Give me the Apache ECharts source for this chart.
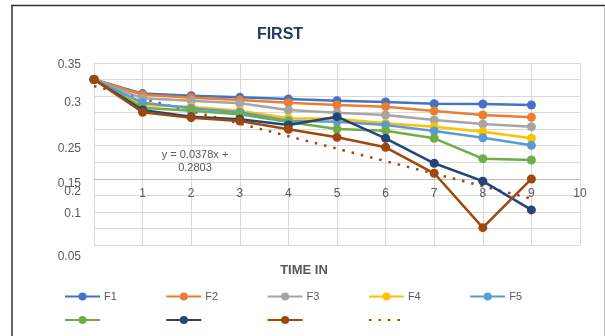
<!DOCTYPE html>
<html>
<head>
<meta charset="utf-8">
<script src="https://cdn.jsdelivr.net/npm/echarts@6/dist/echarts.min.js"></script>
<style>
  html, body { margin: 0; padding: 0; background: #ffffff; }
  #chart { width: 605px; height: 336px; }
</style>
</head>
<body>
<div id="chart"></div>
<script>
// Time steps along the horizontal axis
const timeSteps = [0, 1, 2, 3, 4, 5, 6, 7, 8, 9];

// Measured series
const seriesF1 = [0.330, 0.313, 0.3105, 0.3085, 0.3065, 0.3044, 0.3029, 0.3008, 0.3005, 0.2992];
const seriesF2 = [0.330, 0.3117, 0.308, 0.3053, 0.302, 0.2992, 0.2972, 0.292, 0.2872, 0.2844];
const seriesF3 = [0.330, 0.3073, 0.3044, 0.3013, 0.2932, 0.290, 0.2872, 0.2811, 0.2763, 0.273];
const seriesF4 = [0.330, 0.2992, 0.2972, 0.2924, 0.2832, 0.2825, 0.2771, 0.273, 0.267, 0.259];
const seriesF5 = [0.330, 0.302, 0.2952, 0.2904, 0.2803, 0.2791, 0.2751, 0.2678, 0.2597, 0.2505];
const seriesF6 = [0.330, 0.296, 0.2924, 0.288, 0.2787, 0.2702, 0.2682, 0.259, 0.2344, 0.2328];
const seriesF7 = [0.330, 0.2932, 0.2851, 0.282, 0.2751, 0.2851, 0.259, 0.2288, 0.2072, 0.1724];
const seriesF8 = [0.330, 0.2904, 0.2839, 0.2799, 0.2699, 0.2602, 0.2481, 0.2167, 0.151, 0.2098];

// Linear trend of F8 (end points)
const trendX = [0, 9];
const trendY = [0.322, 0.186];

// Legend names (only the first row carries text)
const legendNames = ['F1', 'F2', 'F3', 'F4', 'F5', '', '', '', ''];

// Vertical axis labels as printed
const yTickLabels = ['0.35', '0.3', '0.25', '0.15', '0.2', '0.1', '0.05'];
const xTickLabels = ['', '1', '2', '3', '4', '5', '6', '7', '8', '9', '10'];

const equationLines = ['y = 0.0378x +', '0.2803'];

const colors = ['#4472C4', '#ED7D31', '#A5A5A5', '#FFC000', '#5B9BD5', '#70AD47', '#264478', '#9E480E', '#9E480E'];
const seriesIds = ['F1', 'F2', 'F3', 'F4', 'F5', 'F6', 'F7', 'F8', 'Linear (F8)'];
const allSeries = [seriesF1, seriesF2, seriesF3, seriesF4, seriesF5, seriesF6, seriesF7, seriesF8];

const FONT = '"Liberation Sans", Arial, sans-serif';

const lineSeries = allSeries.map((vals, i) => ({
  name: seriesIds[i],
  type: 'line',
  data: timeSteps.map((t, k) => [t, vals[k]]),
  symbol: 'circle',
  symbolSize: 9,
  lineStyle: { width: 2.5, color: colors[i] },
  itemStyle: { color: colors[i] },
  z: 3 + i
}));

lineSeries.push({
  name: seriesIds[8],
  type: 'line',
  data: trendX.map((t, k) => [t, trendY[k]]),
  symbol: 'none',
  lineStyle: { width: 2.5, color: colors[8], type: [2.5, 7] },
  itemStyle: { color: colors[8] },
  z: 2
});

// One legend block per entry so the columns keep an even pitch
const legends = seriesIds.map((id, i) => ({
  data: [i === 8 ? { name: id, itemStyle: { opacity: 0 } } : id],
  left: 64 + (i % 5) * 101.3,
  top: i < 5 ? 291 : 315,
  padding: 0,
  itemWidth: 35,
  itemHeight: 10,
  itemGap: 0,
  selectedMode: false,
  formatter: () => legendNames[i],
  textStyle: { color: '#595959', fontSize: 11, fontFamily: FONT, padding: [0, 0, 0, -1] }
}));

// Left-axis labels (right-aligned) and their rows
const yLabelRows = [65, 103, 149, 184, 192, 214, 257];
const yLabelGraphics = yTickLabels.map((txt, i) => ({
  type: 'text',
  x: 81,
  y: yLabelRows[i],
  style: {
    text: txt,
    fill: '#595959',
    font: '12px ' + FONT,
    align: 'right',
    verticalAlign: 'middle'
  },
  z: 10
}));

const chart = echarts.init(document.getElementById('chart'), null, { renderer: 'canvas' });

chart.setOption({
  animation: false,
  backgroundColor: '#ffffff',
  title: {
    text: 'FIRST',
    left: 275,
    top: 22,
    textAlign: 'center',
    textStyle: { color: '#1F3864', fontSize: 16, fontWeight: 'bold', fontFamily: FONT }
  },
  legend: legends,
  grid: { left: 94, right: 25, top: 63, bottom: 91, containLabel: false },
  xAxis: {
    type: 'value',
    min: 0,
    max: 10,
    interval: 1,
    offset: -66,
    axisLine: { show: true, lineStyle: { color: '#BFBFBF', width: 1 } },
    axisTick: { show: false },
    axisLabel: {
      color: '#595959',
      fontSize: 12,
      fontFamily: FONT,
      margin: 9,
      formatter: v => xTickLabels[Math.round(v)] || ''
    },
    splitLine: { show: true, lineStyle: { color: '#D9D9D9', width: 1 } }
  },
  yAxis: {
    type: 'value',
    min: 0.13,
    max: 0.35,
    interval: 0.02,
    axisLine: { show: true, lineStyle: { color: '#D9D9D9', width: 1 } },
    axisTick: { show: false },
    axisLabel: { show: false },
    splitLine: { show: true, lineStyle: { color: '#D9D9D9', width: 1 } }
  },
  series: lineSeries,
  graphic: [
    ...yLabelGraphics,
    {
      type: 'text',
      x: 195,
      y: 155,
      style: { text: equationLines[0], fill: '#595959', font: '11px ' + FONT, align: 'center', verticalAlign: 'middle' },
      z: 10
    },
    {
      type: 'text',
      x: 195,
      y: 168,
      style: { text: equationLines[1], fill: '#595959', font: '11px ' + FONT, align: 'center', verticalAlign: 'middle' },
      z: 10
    },
    {
      type: 'text',
      x: 304,
      y: 270,
      style: { text: 'TIME IN', fill: '#595959', font: 'bold 13px ' + FONT, align: 'center', verticalAlign: 'middle' },
      z: 10
    },
    // page frame
    { type: 'line', shape: { x1: 11, y1: 5.5, x2: 605, y2: 5.5 }, style: { stroke: '#333333', lineWidth: 1.5 }, z: 10 },
    { type: 'line', shape: { x1: 12, y1: 5, x2: 12, y2: 336 }, style: { stroke: '#333333', lineWidth: 1.5 }, z: 10 },
    { type: 'line', shape: { x1: 604.5, y1: 6, x2: 604.5, y2: 336 }, style: { stroke: '#BFBFBF', lineWidth: 1 }, z: 10 }
  ]
});
</script>
</body>
</html>
